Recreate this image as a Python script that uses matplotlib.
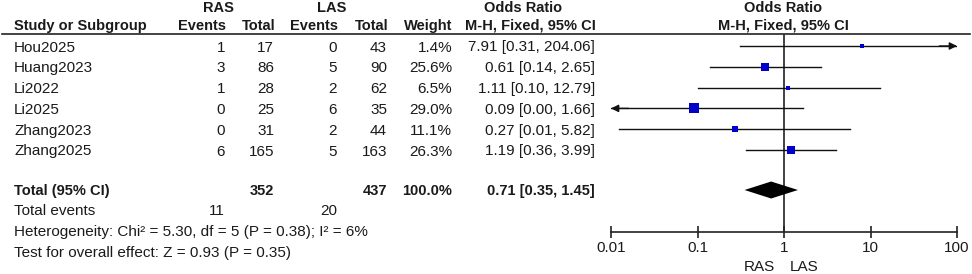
import matplotlib
matplotlib.use("Agg")
import matplotlib.pyplot as plt

# =========================
# DATA
# =========================
studies = ["Hou2025", "Huang2023", "Li2022", "Li2025", "Zhang2023", "Zhang2025"]
ras_events = [1, 3, 1, 0, 0, 6]
ras_total = [17, 86, 28, 25, 31, 165]
las_events = [0, 5, 2, 6, 2, 5]
las_total = [43, 90, 62, 35, 44, 163]
weights = [1.4, 25.6, 6.5, 29.0, 11.1, 26.3]
or_est = [7.91, 0.61, 1.11, 0.09, 0.27, 1.19]
ci_lo = [0.31, 0.14, 0.10, 0.0049, 0.0125, 0.36]
ci_hi = [204.06, 2.65, 12.79, 1.66, 5.82, 3.99]

total_or = [0.71, 0.35, 1.45]
total_weight = 100.0
total_ras, total_las = 352, 437
events_ras, events_las = 11, 20
heterogeneity = "Heterogeneity: Chi\u00b2 = 5.30, df = 5 (P = 0.38); I\u00b2 = 6%"
overall = "Test for overall effect: Z = 0.93 (P = 0.35)"
ticks = [0.01, 0.1, 1, 10, 100]
tick_labels = ["0.01", "0.1", "1", "10", "100"]

# =========================
# STYLE
# =========================
plt.rcParams["font.family"] = ["Liberation Sans", "DejaVu Sans"]
FS = 11      # regular text
FSB = 10.5   # bold text
TXT = "#1a1a1a"
BLUE = "#0000c8"

W, H = 972, 274
fig = plt.figure(figsize=(W / 100, H / 100), dpi=100)

# text layer in pixel coordinates
ax = fig.add_axes([0, 0, 1, 1])
ax.set_xlim(0, W)
ax.set_ylim(H, 0)
ax.axis("off")


def put(x, y, s, ha="left", bold=False):
    ax.text(x, y, s, ha=ha, va="center", fontsize=FSB if bold else FS, color=TXT,
            fontweight="bold" if bold else "normal")


# headers
put(218, 8, "RAS", "center", True)
put(332, 8, "LAS", "center", True)
put(523, 8, "Odds Ratio", "center", True)
put(783, 8, "Odds Ratio", "center", True)
put(14, 26, "Study or Subgroup", bold=True)
put(226, 26, "Events", "right", True)
put(275, 26, "Total", "right", True)
put(338, 26, "Events", "right", True)
put(388, 26, "Total", "right", True)
put(452, 26, "Weight", "right", True)
put(530, 26, "M-H, Fixed, 95% CI", "center", True)
put(783, 26, "M-H, Fixed, 95% CI", "center", True)
ax.plot([2, 970], [34, 34], color="#222222", lw=1.2)

row_y = [46 + 20.8 * i for i in range(len(studies))]
for i, name in enumerate(studies):
    y = row_y[i] + 1.5
    put(14, y, name)
    put(225, y, str(ras_events[i]), "right")
    put(274, y, str(ras_total[i]), "right")
    put(337, y, str(las_events[i]), "right")
    put(387, y, str(las_total[i]), "right")
    put(452, y, f"{weights[i]:.1f}%", "right")
    put(595, y, f"{or_est[i]:.2f} [{ci_lo[i]:.2f}, {ci_hi[i]:.2f}]", "right")

y_tot = 190
put(14, y_tot + 1, "Total (95% CI)", bold=True)
put(274, y_tot + 1, str(total_ras), "right", True)
put(387, y_tot + 1, str(total_las), "right", True)
put(452, y_tot + 1, f"{total_weight:.1f}%", "right", True)
put(595, y_tot + 1, f"{total_or[0]:.2f} [{total_or[1]:.2f}, {total_or[2]:.2f}]", "right", True)
put(14, 211, "Total events")
put(225, 211, str(events_ras), "right")
put(337, 211, str(events_las), "right")
put(14, 232, heterogeneity)
put(14, 253, overall)

# =========================
# FOREST PANEL
# =========================
x0, x1 = 611, 957
y_top, y_axis = 34, 232
axf = fig.add_axes([x0 / W, (H - y_axis) / H, (x1 - x0) / W, (y_axis - y_top) / H])
axf.patch.set_alpha(0)
axf.set_xscale("log")
axf.set_xlim(ticks[0], ticks[-1])
axf.set_ylim(y_axis, y_top)
for s in ["left", "top", "right"]:
    axf.spines[s].set_visible(False)
axf.spines["bottom"].set_color("#222222")
axf.spines["bottom"].set_linewidth(1.2)
axf.set_yticks([])
axf.set_xticks(ticks)
axf.set_xticklabels(tick_labels)
axf.minorticks_off()
axf.tick_params(axis="x", direction="inout", length=9, width=1.2, color="#222222",
                labelsize=FS, labelcolor=TXT, pad=2)

axf.axvline(1, color="#333333", lw=1.3, zorder=1)

lo_lim, hi_lim = ticks[0], ticks[-1]
arrow = dict(arrowstyle="-|>", color="#111111", lw=1.0, mutation_scale=11,
             shrinkA=0, shrinkB=0)
for i in range(len(studies)):
    y = row_y[i]
    lo = max(ci_lo[i], lo_lim)
    hi = min(ci_hi[i], hi_lim)
    axf.plot([lo, hi], [y, y], color="#111111", lw=1.0, zorder=2)
    if ci_hi[i] > hi_lim:
        axf.annotate("", xy=(hi_lim, y), xytext=(hi_lim / 1.6, y), arrowprops=arrow)
    if ci_lo[i] < lo_lim:
        axf.annotate("", xy=(lo_lim, y), xytext=(lo_lim * 1.6, y), arrowprops=arrow)
    side = max(1.7 * weights[i] ** 0.5, 3.5) * 0.72
    axf.plot(or_est[i], y, marker="s", ms=side, color=BLUE, mec=BLUE, mew=0, zorder=3)

axf.fill([total_or[1], total_or[0], total_or[2], total_or[0]],
         [y_tot, y_tot - 8.5, y_tot, y_tot + 8.5], color="black", zorder=3, lw=0)

put(775, 267, "RAS", "right")
put(790, 267, "LAS", "left")

fig.savefig("out.png", dpi=100)
